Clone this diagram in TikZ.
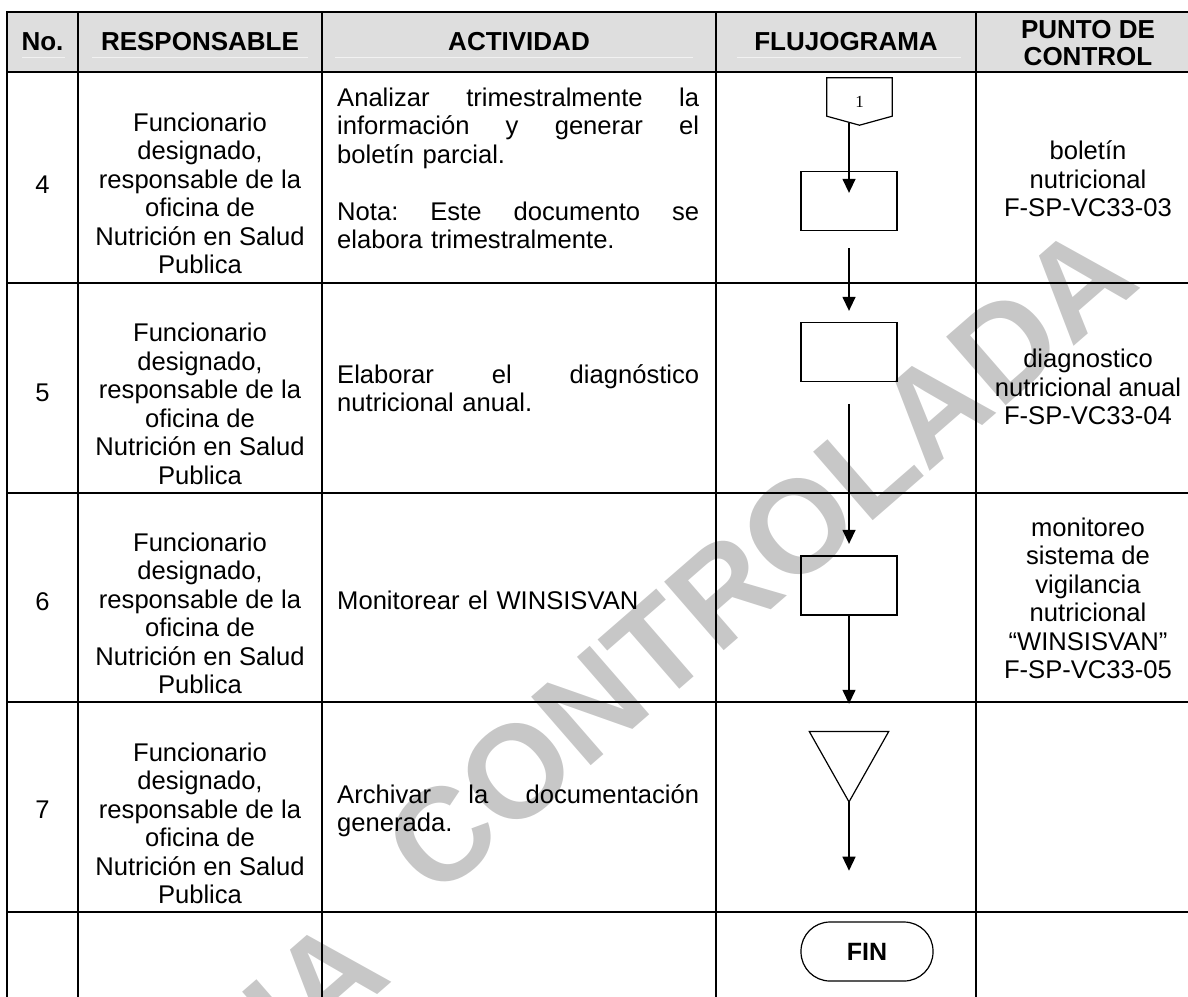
\documentclass[tikz,border=0pt]{standalone}
\usepackage{fontspec}
\setmainfont{Liberation Sans}
\newfontfamily\serifuno{Liberation Serif}
\usetikzlibrary{arrows.meta,positioning,calc}
\newcommand\justa[1]{\leavevmode\hbox to 362pt{#1}}

\begin{document}
\begin{tikzpicture}[x=1pt,y=-1pt,
  celda/.style={font=\fontsize{25.6}{28.5}\selectfont, align=center, inner sep=0pt},
  titulo/.style={font=\fontsize{26}{27}\selectfont\bfseries, align=center, inner sep=0pt},
  actividad/.style={celda, align=left, text width=362pt, anchor=west},
  marcaagua/.style={font=\fontsize{132}{132}\selectfont\bfseries, text=black!22, rotate=41, inner sep=0pt},
  proceso/.style={draw, line width=1.3pt, minimum width=96pt, minimum height=59pt, inner sep=0pt},
  terminal/.style={draw, line width=1.2pt, rounded corners=29pt, minimum width=132pt, minimum height=59pt, font=\fontsize{25}{25}\selectfont\bfseries},
  flecha/.style={line width=1.4pt, -{Triangle[length=14pt,width=13pt]}},
  linea/.style={line width=2.6pt, line cap=rect}]
\useasboundingbox (0,0) rectangle (1188,996);
\clip (0,0) rectangle (1188,996);
\node (marca1) at (395,980) [marcaagua, anchor=base east] {COPIA};
\node (marca2) at (435,902) [marcaagua, anchor=base west] {CONTROLADA};
\fill [black!13] (7,12) rectangle (1200,72);
\foreach \a/\b in {22/65, 92/308, 335/693, 737/961}
  \draw [black!5, line width=1pt] (\a,57) -- (\b,57);
\foreach \y in {12,72,283,493,702,912}
  \draw [linea] (7,\y) -- (1200,\y);
\foreach \x in {7,78,322,716,976}
  \draw [linea] (\x,12) -- (\x,1000);
\node (h1) at (42.5,42) [titulo] {No.};
\node (h2) at (200,42) [titulo] {RESPONSABLE};
\node (h3) at (519,42) [titulo] {ACTIVIDAD};
\node (h4) at (846,42) [titulo] {FLUJOGRAMA};
\node (h5) at (1088,43.5) [titulo] {PUNTO DE\\CONTROL};
\node (n4) at (42.5,185) [celda] {4};
\node (n5) at (42.5,393) [celda] {5};
\node (n6) at (42.5,602) [celda] {6};
\node (n7) at (42.5,810) [celda] {7};
\foreach \y/\n in {193.5/r4, 404/r5, 613.5/r6, 823.5/r7}
  \node (\n) at (200,\y) [celda] {Funcionario\\designado,\\responsable de la\\oficina de\\Nutrici\'on en Salud\\Publica};
\node (a4) at (337,168.5) [actividad] {\justa{Analizar\hfill trimestralmente\hfill la}\\\justa{informaci\'on\hfill y\hfill generar\hfill el}\\bolet\'in parcial.\\\mbox{}\\\justa{Nota:\hfill Este\hfill documento\hfill se}\\elabora trimestralmente.};
\node (a5) at (337,388) [actividad] {\justa{Elaborar\hfill el\hfill diagn\'ostico}\\nutricional anual.};
\node (a6) at (337,600) [actividad] {Monitorear el WINSISVAN};
\node (a7) at (337,810.5) [actividad] {\justa{Archivar\hfill la\hfill documentaci\'on}\\generada.};
\node (p4) at (1088,179) [celda] {bolet\'in\\nutricional\\F-SP-VC33-03};
\node (p5) at (1088,387) [celda] {diagnostico\\nutricional anual\\F-SP-VC33-04};
\node (p6) at (1088,598.5) [celda] {monitoreo\\sistema de\\vigilancia\\nutricional\\``WINSISVAN''\\F-SP-VC33-05};
\node (conn1) at (859.5,97) [minimum width=65pt, minimum height=38pt, inner sep=0pt, text height=21pt, font=\serifuno\fontsize{17}{17}\selectfont] {1};
\draw [line width=1.2pt] (conn1.south west) -- (conn1.north west) -- (conn1.north east) -- (conn1.south east) -- ([yshift=-9pt]conn1.south) -- cycle;
\node (proc1) at (849,201) [proceso] {};
\node (proc2) at (849,351.7) [proceso] {};
\node (proc3) at (849,585.4) [proceso] {};
\node (arch) at (849,766.7) [minimum width=79pt, minimum height=70pt, inner sep=0pt] {};
\draw [line width=1.2pt] (arch.north west) -- (arch.north east) -- (arch.south) -- cycle;
\node (fin) at (867,951.5) [terminal] {FIN};
\coordinate (finflecha) at (849,870.7);
\draw [flecha, shorten <=6.5pt] (conn1.south -| proc1.north) -- ([yshift=-22pt]proc1.north);
\draw [flecha, shorten <=17pt, shorten >=10.7pt] (proc1) -- (proc2);
\draw [flecha, shorten <=22pt, shorten >=11.4pt] (proc2) -- (proc3);
\draw [flecha, shorten >=27.7pt] (proc3) -- (arch);
\draw [flecha] (arch.south) -- (finflecha);
\end{tikzpicture}
\end{document}
